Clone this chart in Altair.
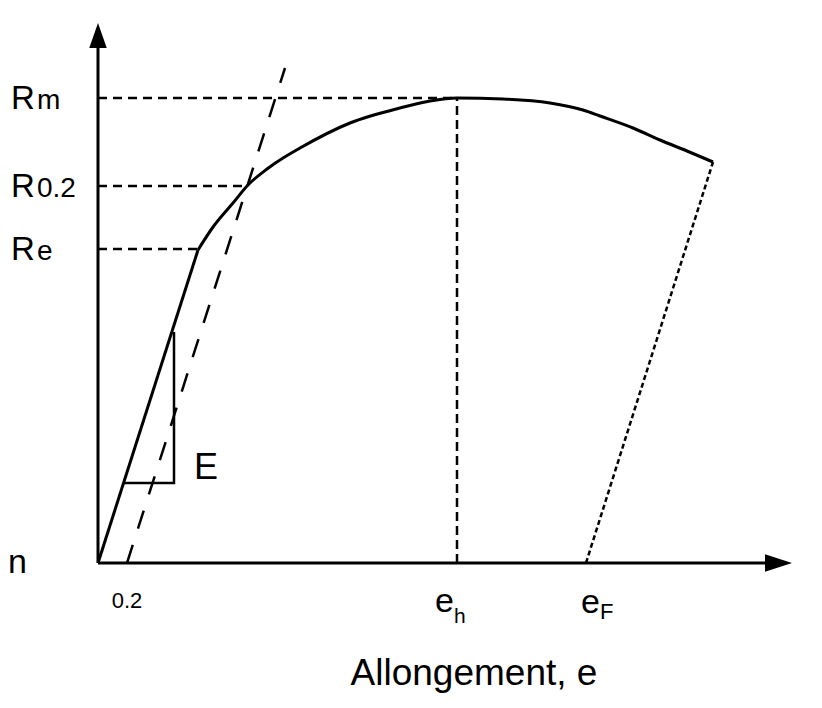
import altair as alt
import pandas as pd

# ---- data (strain = x, stress = y, schematic units) ----
elastic_strain = [0, 100]
elastic_stress = [0, 313]
curve_strain = [100, 115, 135, 150, 169, 185, 202, 252, 302, 332, 359, 405, 452, 485, 502, 535, 562, 589, 615]
curve_stress = [313, 336, 360, 378, 394, 405, 415, 440, 455, 462, 465, 464, 460, 453, 447, 435, 423, 412, 401]

stress_names = ["m", "0.2", "e"]
stress_values = [465, 377, 314]
stress_reach = [359, 150, 100]

offset_strain = [29, 187]
offset_stress = [0, 495]

eh_value = 359
eF_value = 488
fracture_strain = [488, 615]
fracture_stress = [0, 401]

tri_strain = [25, 76, 76]
tri_stress = [80, 80, 231]
tri_order = [0, 1, 2]

x_axis_end = 667
y_axis_end = 515
x_arrow = 680.5
y_arrow = 527.5

FONT = "Liberation Sans"
X = alt.Scale(domain=[-90, 716], nice=False, zero=False)
Y = alt.Scale(domain=[-137, 555], nice=False, zero=False)

def xe(f, **kw):
    return alt.X(f, type="quantitative", scale=X, axis=None, **kw)

def ye(f, **kw):
    return alt.Y(f, type="quantitative", scale=Y, axis=None, **kw)

elastic_df = pd.DataFrame({"x": elastic_strain, "y": elastic_stress})
curve_df = pd.DataFrame({"x": curve_strain, "y": curve_stress})
stress_df = pd.DataFrame({"name": stress_names, "y": stress_values, "reach": stress_reach, "x0": [0] * 3})
offset_df = pd.DataFrame({"x": offset_strain, "y": offset_stress})
fracture_df = pd.DataFrame({"x": fracture_strain, "y": fracture_stress})
tri_df = pd.DataFrame({"x": tri_strain, "y": tri_stress, "o": tri_order})
axes_df = pd.DataFrame({"x": [0, 0], "x2": [x_axis_end, 0], "y": [0, 0], "y2": [0, y_axis_end]})
eh_df = pd.DataFrame({"x": [eh_value], "y": [0], "y2": [stress_values[0]]})
arrow_up = pd.DataFrame({"x": [0], "y": [y_arrow]})
arrow_right = pd.DataFrame({"x": [x_arrow], "y": [0]})
tick_df = pd.DataFrame({"x": [offset_strain[0]], "y": [0], "t": ["0.2"]})
eh_lab = pd.DataFrame({"x": [eh_value], "y": [0]})
eF_lab = pd.DataFrame({"x": [eF_value], "y": [0]})
E_df = pd.DataFrame({"x": [tri_strain[1]], "y": [tri_stress[0]], "t": ["E"]})

axes = alt.Chart(axes_df).mark_rule(color="black", strokeWidth=3).encode(
    x=xe("x"), x2="x2", y=ye("y"), y2="y2")
up = alt.Chart(arrow_up).mark_point(
    shape="M-0.7,1 L0,-1 L0.7,1 Z", size=625, filled=True, color="black", opacity=1
).encode(x=xe("x"), y=ye("y"))
right = alt.Chart(arrow_right).mark_point(
    shape="M-1,-0.65 L1,0 L-1,0.65 Z", size=729, filled=True, color="black", opacity=1
).encode(x=xe("x"), y=ye("y"))

guides = alt.Chart(stress_df).mark_rule(color="black", strokeWidth=2.5, strokeDash=[9, 6]).encode(
    x=xe("x0"), x2="reach", y=ye("y"))
eh_rule = alt.Chart(eh_df).mark_rule(color="black", strokeWidth=2.5, strokeDash=[9, 5]).encode(
    x=xe("x"), y=ye("y"), y2="y2")
elastic = alt.Chart(elastic_df).mark_line(color="black", strokeWidth=3).encode(x=xe("x"), y=ye("y"))
curve = alt.Chart(curve_df).mark_line(color="black", strokeWidth=3, interpolate="monotone").encode(
    x=xe("x"), y=ye("y"))
offset = alt.Chart(offset_df).mark_line(color="black", strokeWidth=2.5, strokeDash=[19, 17]).encode(
    x=xe("x"), y=ye("y"))
fracture = alt.Chart(fracture_df).mark_line(color="black", strokeWidth=2.5, strokeDash=[5, 3]).encode(
    x=xe("x"), y=ye("y"))
tri = alt.Chart(tri_df).mark_line(color="black", strokeWidth=2.5).encode(
    x=xe("x"), y=ye("y"), order="o:Q")

R_text = alt.Chart(stress_df).mark_text(
    text="R", font=FONT, fontSize=33, align="left", baseline="alphabetic", dy=11, color="black"
).encode(x=alt.value(3), y=ye("y"))
R_sub = alt.Chart(stress_df).mark_text(
    font=FONT, fontSize=28, align="left", baseline="alphabetic", dy=11, color="black"
).encode(x=alt.value(29), y=ye("y"), text="name:N")

tick = alt.Chart(tick_df).mark_text(
    font=FONT, fontSize=22, align="center", baseline="alphabetic", dy=45, color="black"
).encode(x=xe("x"), y=ye("y"), text="t:N")

eh_e = alt.Chart(eh_lab).mark_text(
    text="e", font=FONT, fontSize=34, align="right", baseline="alphabetic", dx=-3, dy=49, color="black"
).encode(x=xe("x"), y=ye("y"))
eh_h = alt.Chart(eh_lab).mark_text(
    text="h", font=FONT, fontSize=21, align="left", baseline="alphabetic", dx=-3, dy=60, color="black"
).encode(x=xe("x"), y=ye("y"))
eF_e = alt.Chart(eF_lab).mark_text(
    text="e", font=FONT, fontSize=34, align="right", baseline="alphabetic", dx=14, dy=50, color="black"
).encode(x=xe("x"), y=ye("y"))
eF_F = alt.Chart(eF_lab).mark_text(
    text="F", font=FONT, fontSize=22, align="left", baseline="alphabetic", dx=14, dy=56, color="black"
).encode(x=xe("x"), y=ye("y"))

E_text = alt.Chart(E_df).mark_text(
    font=FONT, fontSize=36, align="left", baseline="alphabetic", dx=20, dy=-4, color="black"
).encode(x=xe("x"), y=ye("y"), text="t:N")

title_x = alt.Chart(pd.DataFrame({"t": ["Allongement, e"]})).mark_text(
    font=FONT, fontSize=37, align="center", baseline="alphabetic", color="black"
).encode(x=alt.value(466), y=alt.value(677), text="t:N")

n_text = alt.Chart(pd.DataFrame({"t": ["n"]})).mark_text(
    font=FONT, fontSize=34, align="left", baseline="alphabetic", color="black"
).encode(x=alt.value(0), y=alt.value(565), text="t:N")

chart = alt.layer(
    guides, eh_rule, offset, fracture, tri, elastic, curve, axes, up, right,
    R_text, R_sub, tick, eh_e, eh_h, eF_e, eF_F, E_text, title_x, n_text
).properties(
    width=806, height=692, autosize=alt.AutoSizeParams(type="none"), padding=0, background="white"
).configure_view(stroke=None)

chart.save("out.html", embed_options={"renderer": "svg", "actions": False})
